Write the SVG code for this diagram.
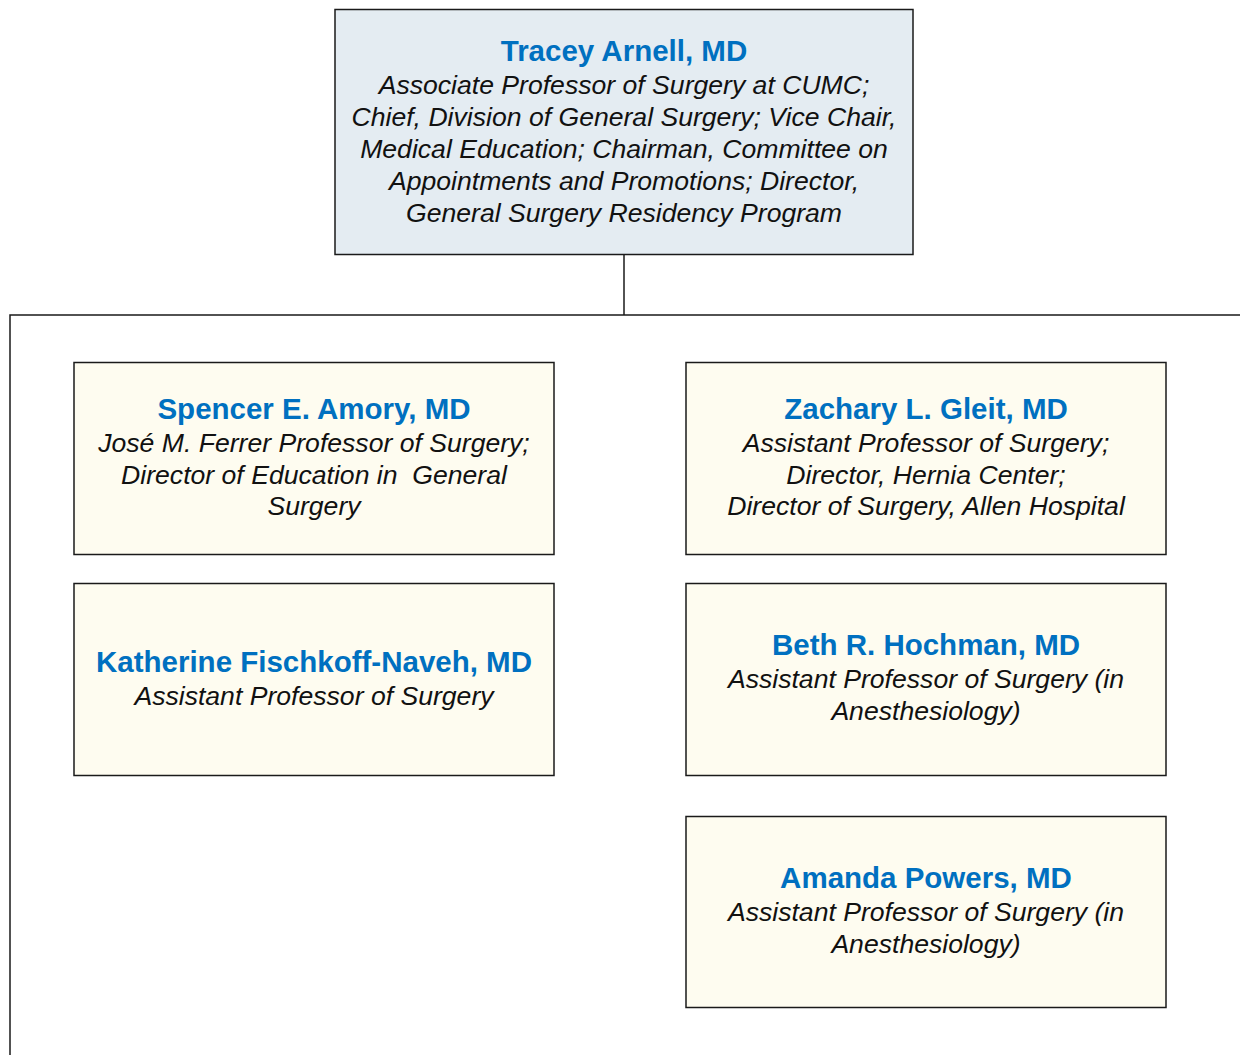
<svg xmlns="http://www.w3.org/2000/svg" width="1240" height="1055" viewBox="0 0 1240 1055">
<style>
.top{fill:#e4ecf2;stroke:#1a1a1a;stroke-width:1.5}
.box{fill:#fefcf0;stroke:#1a1a1a;stroke-width:1.5}
.nm{font-family:"Liberation Sans",Arial,sans-serif;font-weight:bold;font-size:29.5px;fill:#0070c0;text-anchor:middle}
.tx{font-family:"Liberation Sans",Arial,sans-serif;font-style:italic;font-size:26.6px;fill:#111;text-anchor:middle}
.ln{fill:none;stroke:#1a1a1a;stroke-width:1.5}
</style>
<rect width="1240" height="1055" fill="#fff"/>
<g id="connectors">
<line class="ln" x1="624" y1="254" x2="624" y2="315"/>
<polyline class="ln" points="1242,315 10,315 10,1057"/>
</g>
<g id="tracey">
<rect class="top" x="335" y="9.5" width="578" height="245"/>
<text class="nm" x="624" y="61">Tracey Arnell, MD</text>
<text class="tx" x="624" y="94">Associate Professor of Surgery at CUMC;</text>
<text class="tx" x="624" y="126">Chief, Division of General Surgery; Vice Chair,</text>
<text class="tx" x="624" y="158">Medical Education; Chairman, Committee on</text>
<text class="tx" x="624" y="190">Appointments and Promotions; Director,</text>
<text class="tx" x="624" y="222">General Surgery Residency Program</text>
</g>
<g id="spencer">
<rect class="box" x="74" y="362.5" width="480" height="192"/>
<text class="nm" x="314" y="419">Spencer E. Amory, MD</text>
<text class="tx" x="314" y="452">José M. Ferrer Professor of Surgery;</text>
<text class="tx" x="314" y="484" xml:space="preserve">Director of Education in  General</text>
<text class="tx" x="314" y="515">Surgery</text>
</g>
<g id="katherine">
<rect class="box" x="74" y="583.5" width="480" height="192"/>
<text class="nm" x="314" y="672">Katherine Fischkoff-Naveh, MD</text>
<text class="tx" x="314" y="705">Assistant Professor of Surgery</text>
</g>
<g id="zachary">
<rect class="box" x="686" y="362.5" width="480" height="192"/>
<text class="nm" x="926" y="419">Zachary L. Gleit, MD</text>
<text class="tx" x="926" y="452">Assistant Professor of Surgery;</text>
<text class="tx" x="926" y="484">Director, Hernia Center;</text>
<text class="tx" x="926" y="515">Director of Surgery, Allen Hospital</text>
</g>
<g id="beth">
<rect class="box" x="686" y="583.5" width="480" height="192"/>
<text class="nm" x="926" y="655">Beth R. Hochman, MD</text>
<text class="tx" x="926" y="688">Assistant Professor of Surgery (in</text>
<text class="tx" x="926" y="720">Anesthesiology)</text>
</g>
<g id="amanda">
<rect class="box" x="686" y="816.5" width="480" height="191"/>
<text class="nm" x="926" y="888">Amanda Powers, MD</text>
<text class="tx" x="926" y="921">Assistant Professor of Surgery (in</text>
<text class="tx" x="926" y="953">Anesthesiology)</text>
</g>
</svg>
